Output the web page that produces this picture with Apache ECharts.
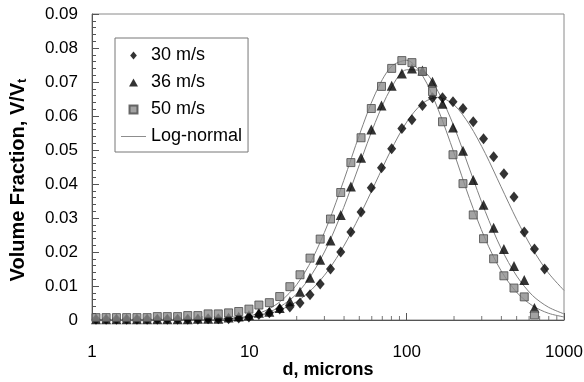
<!DOCTYPE html>
<html><head><meta charset="utf-8">
<script src="https://cdn.jsdelivr.net/npm/echarts@6/dist/echarts.min.js"></script>
<style>html,body{margin:0;padding:0;background:#fff}#c{width:584px;height:382px}</style>
</head><body><div id="c"></div>
<script>
// particle size bins (microns)
const sizeBins = [1.06,1.23,1.43,1.66,1.93,2.24,2.60,3.01,3.50,4.06,4.71,5.47,6.35,7.38,8.56,9.94,11.5,13.4,15.6,18.1,21.0,24.3,28.2,32.8,38.1,44.2,51.3,59.6,69.2,80.3,93.2,108,126,146,169,197,228,265,308,357,415,481,559,649,753];
// 30 m/s (diamonds)
const vel30 = [0.0002,0.0002,0.0002,0.0002,0.0002,0.0002,0.0002,0.0002,0.0002,0.0002,0.0002,0.0004,0.0004,0.0004,0.0006,0.0009,0.0016,0.0021,0.0032,0.0038,0.0050,0.0074,0.0106,0.0150,0.0200,0.0259,0.0318,0.0389,0.0448,0.0504,0.0563,0.0589,0.0631,0.0654,0.0654,0.0642,0.0622,0.0583,0.0533,0.0480,0.0430,0.0362,0.0259,0.0209,0.0150];
// 36 m/s (triangles)
const vel36 = [0.0002,0.0002,0.0002,0.0002,0.0002,0.0002,0.0002,0.0002,0.0002,0.0002,0.0004,0.0004,0.0004,0.0007,0.0010,0.0015,0.0021,0.0024,0.0035,0.0055,0.0083,0.0124,0.0177,0.0234,0.0309,0.0393,0.0477,0.0560,0.0631,0.0689,0.0725,0.0740,0.0734,0.0701,0.0636,0.0566,0.0498,0.0412,0.0339,0.0271,0.0209,0.0159,0.0118,0.0035];
// 50 m/s (squares)
const vel50 = [0.0007,0.0007,0.0007,0.0007,0.0007,0.0007,0.0010,0.0010,0.0010,0.0013,0.0013,0.0018,0.0018,0.0021,0.0025,0.0032,0.0044,0.0051,0.0069,0.0098,0.0133,0.0182,0.0238,0.0297,0.0375,0.0463,0.0536,0.0622,0.0687,0.0740,0.0763,0.0757,0.0731,0.0672,0.0583,0.0486,0.0401,0.0309,0.0239,0.0180,0.0130,0.0094,0.0068,0.0015];
// log-normal curves read at these sizes
const fitSizes = [1,1.26,1.58,2,2.51,3.16,3.98,5.01,6.31,7.94,10,12.6,15.8,20,25.1,31.6,39.8,50.1,63.1,79.4,100,126,158,200,251,316,398,501,631,794,1000];
const fit30 = [0,0,0,0,0,0,0.00002,0.00006,0.00015,0.00035,0.0008,0.0016,0.0030,0.0054,0.0091,0.0145,0.0217,0.0305,0.0402,0.0499,0.0582,0.0637,0.0655,0.0633,0.0574,0.0490,0.0392,0.0295,0.0209,0.0139,0.0087];
const fit36 = [0,0,0,0,0,0,0.00001,0.00005,0.00013,0.00035,0.0009,0.0019,0.0040,0.0077,0.0136,0.0221,0.0331,0.0457,0.0581,0.0681,0.0736,0.0733,0.0673,0.0569,0.0444,0.0319,0.0211,0.0129,0.0072,0.0038,0.0018];
const fit50 = [0,0,0,0,0,0.00001,0.00002,0.00006,0.00019,0.00049,0.0012,0.0027,0.0055,0.0104,0.0179,0.0283,0.0410,0.0545,0.0665,0.0744,0.0764,0.0719,0.0621,0.0491,0.0357,0.0238,0.0145,0.0081,0.0042,0.0020,0.0009];
// axis ticks
const xMinorTicks = [2,3,4,5,6,7,8,9,20,30,40,50,60,70,80,90,200,300,400,500,600,700,800,900];
const seriesNames = ['30 m/s','36 m/s','50 m/s','Log-normal'];

function pairs(xs, ys){ return ys.map((y,i)=>[xs[i], y]); }

const FONT = 'Liberation Sans, Arial, sans-serif';
const chart = echarts.init(document.getElementById('c'), null, {renderer:'canvas'});
const lineStyle = {color:'#808080', width:1};
chart.setOption({
  animation:false,
  backgroundColor:'#fff',
  grid:{left:92, right:20, top:14, bottom:62, show:true, borderColor:'#8a8a8a', borderWidth:1, containLabel:false, outerBoundsMode:'none'},
  legend:{
    data:[
      {name:seriesNames[0], icon:'path://M5,0L10,6L5,12L0,6Z'},
      {name:seriesNames[1], icon:'path://M5,0L10,9L0,9Z'},
      {name:seriesNames[2], icon:'path://M0,0H9V9H0Z'},
      {name:seriesNames[3], icon:'path://M0,0H25V0.9H0Z'}
    ],
    symbolKeepAspect:true,
    orient:'vertical', left:115, top:38,
    padding:[8,6,6,6], itemGap:8, itemWidth:25, itemHeight:8,
    borderColor:'#777', borderWidth:1, backgroundColor:'#fff',
    textStyle:{fontFamily:FONT, fontSize:18, lineHeight:19, color:'#000'}
  },
  xAxis:{
    type:'log', logBase:10, min:1, max:1000,
    axisLine:{show:true, lineStyle:{color:'#555'}},
    axisTick:{show:true, inside:true, length:7, lineStyle:{color:'#555'}},
    axisLabel:{fontFamily:FONT, fontSize:17, color:'#000', margin:24, formatter:v => String(v)},
    splitLine:{show:false},
    name:'d, microns', nameLocation:'middle', nameGap:41, nameMoveOverlap:false,
    nameTextStyle:{fontFamily:FONT, fontSize:18, fontWeight:'bold', color:'#000'}
  },
  yAxis:{
    type:'value', min:0, max:0.09, interval:0.01,
    axisLine:{show:true, lineStyle:{color:'#555'}},
    axisTick:{show:true, inside:true, length:7, lineStyle:{color:'#555'}},
    minorTick:{show:true, splitNumber:5, length:4, lineStyle:{color:'#555'}},
    axisLabel:{fontFamily:FONT, fontSize:17, color:'#000', margin:14,
      formatter:v => v === 0 ? '0' : v.toFixed(2)},
    splitLine:{show:false},
    name:'{a|Volume Fraction, V/V}{s|t}{p|}', nameLocation:'middle', nameGap:63, nameMoveOverlap:false,
    nameTextStyle:{fontFamily:FONT, fontSize:20, fontWeight:'bold', color:'#000',
      rich:{a:{fontFamily:FONT, fontSize:20, fontWeight:'bold', lineHeight:22},
            s:{fontFamily:FONT, fontSize:13, fontWeight:'bold', verticalAlign:'bottom', lineHeight:14},
            p:{width:26, fontSize:13}}}
  },
  series:[
    {name:'minor ticks', type:'scatter', data:xMinorTicks.map(v => [v, 0]), symbol:'rect', symbolSize:[1,4], symbolOffset:[0,-2], itemStyle:{color:'#555'}, silent:true, clip:false, z:0},
    {name:'Log-normal', type:'line', data:pairs(fitSizes, fit30), symbol:'none', showSymbol:false, smooth:0.3, lineStyle, itemStyle:{color:'#808080'}, z:1},
    {name:'Log-normal', type:'line', data:pairs(fitSizes, fit36), symbol:'none', showSymbol:false, smooth:0.3, lineStyle, itemStyle:{color:'#808080'}, z:1},
    {name:'Log-normal', type:'line', data:pairs(fitSizes, fit50), symbol:'none', showSymbol:false, smooth:0.3, lineStyle, itemStyle:{color:'#808080'}, z:1},
    {name:'30 m/s', type:'scatter', data:pairs(sizeBins, vel30), symbol:'diamond', symbolSize:[9,11], itemStyle:{color:'#000'}, z:2},
    {name:'36 m/s', type:'scatter', data:pairs(sizeBins, vel36), symbol:'triangle', symbolSize:[10,10], itemStyle:{color:'#000'}, z:3},
    {name:'50 m/s', type:'scatter', data:pairs(sizeBins, vel50), symbol:'rect', symbolSize:8, itemStyle:{color:'#8c8c8c', borderColor:'#4a4a4a', borderWidth:1}, z:4}
  ]
});
</script>
</body></html>
